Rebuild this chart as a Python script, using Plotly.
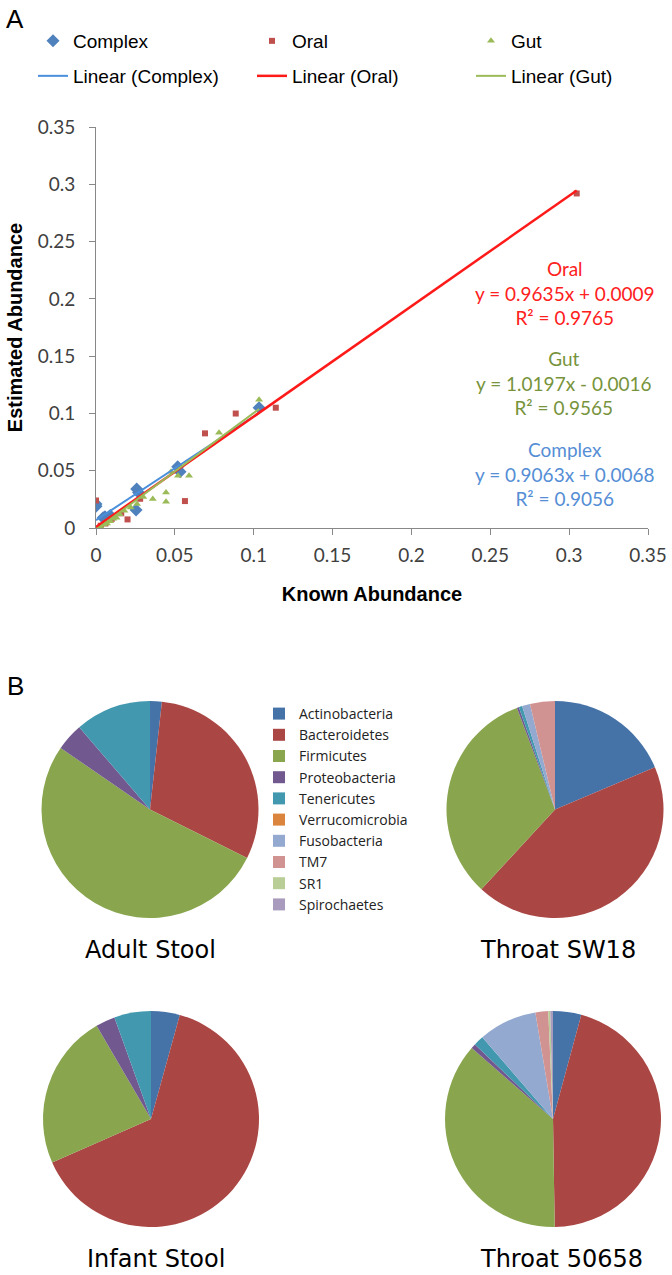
import plotly.graph_objects as go

# ---------------- Panel A data ----------------
complex_x = [0.0, 0.0, 0.0045, 0.0057, 0.009, 0.0254, 0.0258, 0.027, 0.0518, 0.0533, 0.1034]
complex_y = [0.019, 0.021, 0.009, 0.0099, 0.011, 0.0157, 0.034, 0.031, 0.0535, 0.049, 0.105]

oral_x = [0.0, 0.003, 0.006, 0.010, 0.016, 0.020, 0.028, 0.0564, 0.0691, 0.0886, 0.114, 0.3048]
oral_y = [0.024, 0.002, 0.004, 0.008, 0.0128, 0.0075, 0.0255, 0.0235, 0.0826, 0.0999, 0.105, 0.292]

gut_x = [0.001, 0.003, 0.005, 0.007, 0.009, 0.011, 0.013, 0.015, 0.018, 0.022, 0.026, 0.030,
         0.036, 0.0444, 0.0444, 0.0476, 0.052, 0.059, 0.078, 0.1034]
gut_y = [0.000, 0.001, 0.003, 0.004, 0.006, 0.008, 0.009, 0.012, 0.015, 0.018, 0.021, 0.027,
         0.0253, 0.031, 0.023, 0.049, 0.0455, 0.0455, 0.0832, 0.112]

series_names = ["Complex", "Oral", "Gut"]
fit_slopes = [0.9063, 0.9635, 1.0197]
fit_intercepts = [0.0068, 0.0009, -0.0016]
fit_r2 = [0.9056, 0.9765, 0.9565]
fit_x_max = [0.1034, 0.3048, 0.1034]

axis_ticks = [0, 0.05, 0.1, 0.15, 0.2, 0.25, 0.3, 0.35]

# ---------------- Panel B data ----------------
phyla = ["Actinobacteria", "Bacteroidetes", "Firmicutes", "Proteobacteria", "Tenericutes",
         "Verrucomicrobia", "Fusobacteria", "TM7", "SR1", "Spirochaetes"]
adult_stool = [1.75, 30.6, 52.2, 4.1, 11.3, 0, 0, 0, 0, 0]
throat_sw18 = [18.6, 43.2, 32.4, 0.3, 0.5, 0, 1.2, 3.7, 0, 0]
infant_stool = [4.3, 64.1, 23.2, 2.9, 5.5, 0, 0, 0, 0, 0]
throat_50658 = [4.2, 45.3, 36.5, 0.7, 1.5, 0, 8.7, 1.9, 0.3, 0.4]
pie_titles = ["Adult Stool", "Throat SW18", "Infant Stool", "Throat 50658"]

phylum_colors = ["#4572A7", "#AA4643", "#89A54E", "#71588F", "#4198AF",
                 "#DB843D", "#93A9CF", "#D19392", "#B9CD96", "#A99BBD"]

W, H = 672, 1275
def px(x):
    return x / W
def py(y):
    return 1 - y / H

fig = go.Figure()

marker_colors = ["#4F81BD", "#C0504D", "#9BBB59"]
line_colors = ["#4A8FDB", "#FF1A1A", "#9BBB59"]
symbols = ["diamond", "square", "triangle-up"]
sizes = [10, 6, 7]
xs = [complex_x, oral_x, gut_x]
ys = [complex_y, oral_y, gut_y]

for i in range(3):
    fig.add_trace(go.Scatter(
        x=xs[i], y=ys[i], mode="markers", name=series_names[i],
        marker=dict(symbol=symbols[i], size=sizes[i], color=marker_colors[i]),
        legend="legend"))

for i in range(3):
    x0, x1 = 0.0, fit_x_max[i]
    fig.add_trace(go.Scatter(
        x=[x0, x1], y=[fit_slopes[i] * x0 + fit_intercepts[i], fit_slopes[i] * x1 + fit_intercepts[i]],
        mode="lines", name=f"Linear ({series_names[i]})",
        line=dict(color=line_colors[i], width=2.5 if i == 1 else 2),
        legend="legend3"))

# pies
pie_domains = [
    (41, 259, 701, 918),
    (446, 664, 701, 918),
    (43, 259, 1011, 1227),
    (445, 661, 1011, 1227),
]
pie_vals = [adult_stool, throat_sw18, infant_stool, throat_50658]
for k in range(4):
    x0, x1, y0, y1 = pie_domains[k]
    fig.add_trace(go.Pie(
        labels=phyla, values=pie_vals[k], sort=False, direction="clockwise",
        marker=dict(colors=phylum_colors, line=dict(width=0)),
        textinfo="none", hoverinfo="label+percent", showlegend=(k == 0),
        domain=dict(x=[px(x0), px(x1)], y=[py(y1), py(y0)]),
        legend="legend2", name=pie_titles[k]))

calibri_like = "Lato, Open Sans, sans-serif"
axis_font = dict(family=calibri_like, size=19, color="#404040")
title_font = dict(family="Liberation Sans, Arial", size=20, color="black")
fig.update_layout(
    width=W, height=H, margin=dict(l=0, r=0, t=0, b=0, autoexpand=False),
    paper_bgcolor="white", plot_bgcolor="white",
    xaxis=dict(domain=[px(96), px(648)], range=[0, 0.35], tickvals=axis_ticks,
               showgrid=False, zeroline=False, showline=True, linecolor="#888888", linewidth=1,
               ticks="outside", ticklen=6, tickcolor="#888888", tickfont=axis_font,
               ticklabelstandoff=4, anchor="y",
               title=dict(text="<b>Known Abundance</b>", standoff=22, font=title_font)),
    yaxis=dict(domain=[py(528), py(127)], range=[0, 0.35], tickvals=axis_ticks,
               showgrid=False, zeroline=False, showline=True, linecolor="#888888", linewidth=1,
               ticks="outside", ticklen=6, tickcolor="#888888", tickfont=axis_font,
               ticklabelstandoff=10, anchor="x",
               title=dict(text="<b>Estimated Abundance</b>", standoff=9, font=title_font)),
    legend=dict(orientation="h", x=px(33), y=py(22), xanchor="left", yanchor="top",
                entrywidth=174, entrywidthmode="pixels",
                font=dict(family="Liberation Sans, Arial", size=19, color="black"),
                bgcolor="rgba(0,0,0,0)"),
    legend3=dict(orientation="h", x=px(33), y=py(57), xanchor="left", yanchor="top",
                 entrywidth=174, entrywidthmode="pixels",
                 font=dict(family="Liberation Sans, Arial", size=19, color="black"),
                 bgcolor="rgba(0,0,0,0)"),
    legend2=dict(orientation="v", x=px(259), y=py(698), xanchor="left", yanchor="top",
                 font=dict(family="Open Sans, sans-serif", size=14, color="#222222"),
                 bgcolor="rgba(0,0,0,0)", traceorder="normal"),
)

annotations = []
annotations.append(dict(text="A", x=px(4), y=py(19), xref="paper", yref="paper", showarrow=False,
                        xanchor="left", yanchor="middle",
                        font=dict(family="Liberation Sans, Arial", size=26, color="black")))
annotations.append(dict(text="B", x=px(5), y=py(686), xref="paper", yref="paper", showarrow=False,
                        xanchor="left", yanchor="middle",
                        font=dict(family="Liberation Sans, Arial", size=26, color="black")))

eq_colors = ["#558ED5", "#FF2020", "#77933C"]
eq_y = [474, 293, 383]
for i in range(3):
    sign = "+" if fit_intercepts[i] >= 0 else "-"
    txt = (f"{series_names[i]}<br>y = {fit_slopes[i]:.4f}x {sign} {abs(fit_intercepts[i]):.4f}"
           f"<br>R² = {fit_r2[i]:.4f}")
    annotations.append(dict(text=txt, x=px(564), y=py(eq_y[i]), xref="paper", yref="paper",
                            showarrow=False, xanchor="center", yanchor="middle", align="center",
                            font=dict(family=calibri_like, size=19, color=eq_colors[i])))

title_pos = [(150, 950), (558, 950), (156, 1259), (561, 1259)]
for k in range(4):
    annotations.append(dict(text=pie_titles[k], x=px(title_pos[k][0]), y=py(title_pos[k][1]),
                            xref="paper", yref="paper", showarrow=False,
                            xanchor="center", yanchor="middle",
                            font=dict(family="DejaVu Sans, Verdana", size=24, color="black")))

fig.update_layout(annotations=annotations)
fig.write_html(
    "out.html",
    config={"displayModeBar": False},
    post_script="document.body.style.margin='0';document.body.style.overflow='hidden';",
)
